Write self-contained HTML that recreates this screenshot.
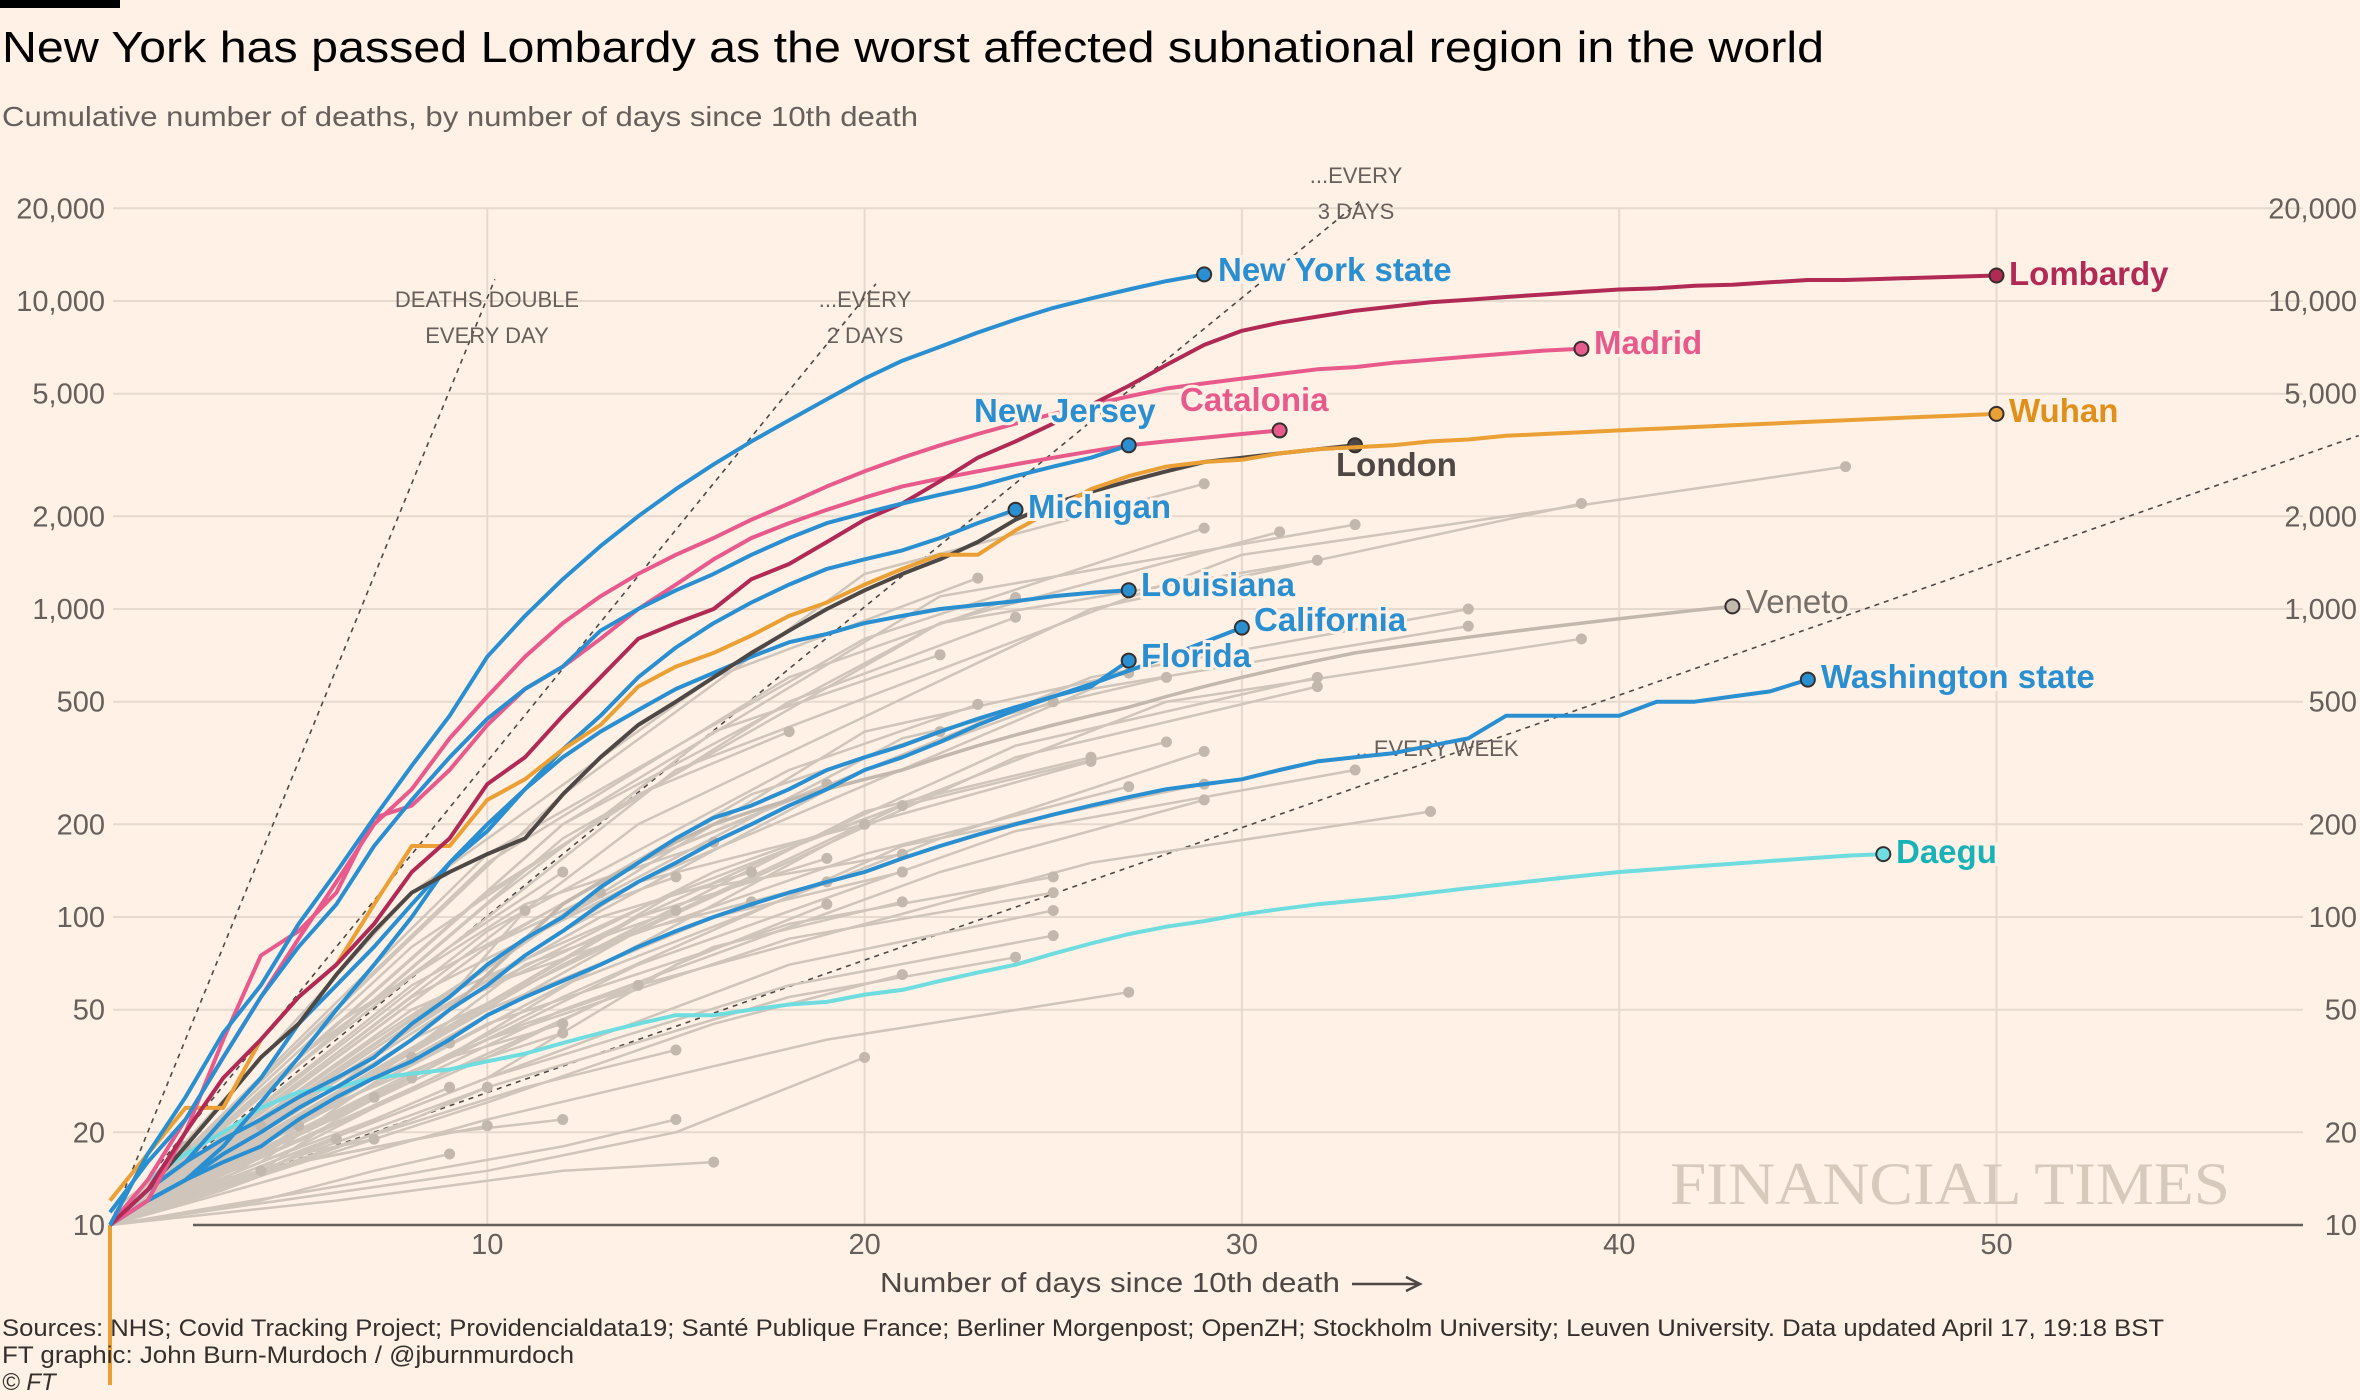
<!DOCTYPE html>
<html><head><meta charset="utf-8"><style>
html,body{margin:0;padding:0;background:#fff1e5;}
svg{display:block;font-family:"Liberation Sans",sans-serif;}
</style></head><body>
<svg id="chart" width="2360" height="1400" viewBox="0 0 2360 1400" xmlns="http://www.w3.org/2000/svg">
<rect width="2360" height="1400" fill="#fff1e5"/>
<rect x="0" y="0" width="120" height="8" fill="#000"/>
<text x="2" y="62" font-size="44" fill="#000" textLength="1822" lengthAdjust="spacingAndGlyphs">New York has passed Lombardy as the worst affected subnational region in the world</text>
<text x="2" y="126" font-size="28" fill="#66605c" textLength="916" lengthAdjust="spacingAndGlyphs">Cumulative number of deaths, by number of days since 10th death</text>
<g id="grid"></g>
<g id="axes"></g>
<text x="1670" y="1204" font-family="Liberation Serif,serif" font-size="60" fill="#d6cabd" textLength="560" lengthAdjust="spacingAndGlyphs">FINANCIAL TIMES</text>
<g id="refs"></g>
<g id="series"></g>
<g id="labels"></g>
<text x="880" y="1292" font-size="28" fill="#4d4845" textLength="460" lengthAdjust="spacingAndGlyphs">Number of days since 10th death</text>
<path d="M1352 1284 L1418 1284 M1406 1277 L1420 1284 L1406 1291" stroke="#4d4845" stroke-width="2.5" fill="none"/>
<text x="2" y="1336" font-size="24" fill="#33302e" textLength="2162" lengthAdjust="spacingAndGlyphs">Sources:  NHS; Covid Tracking Project; Providencialdata19; Santé Publique France; Berliner Morgenpost; OpenZH; Stockholm University; Leuven University. Data updated April 17, 19:18 BST</text>
<text x="2" y="1363" font-size="24" fill="#33302e" textLength="572" lengthAdjust="spacingAndGlyphs">FT graphic: John Burn-Murdoch / @jburnmurdoch</text>
<text x="2" y="1390" font-size="24" font-style="italic" fill="#33302e">© FT</text>
</svg>
<script>
var yTicks=[10,20,50,100,200,500,1000,2000,5000,10000,20000];
var yTickLabels=["10","20","50","100","200","500","1,000","2,000","5,000","10,000","20,000"];
var xTicks=[10,20,30,40,50];
var nyVals=[10,17,26,42,60,95,140,210,310,450,700,950,1250,1600,2000,2450,2950,3500,4100,4800,5600,6400,7100,7900,8700,9500,10200,10900,11600,12200];
var lombardyVals=[10,13,20,30,40,55,70,95,140,180,270,330,450,600,800,900,1000,1250,1400,1650,1950,2200,2600,3100,3500,4000,4600,5300,6200,7200,8000,8500,8900,9300,9600,9900,10100,10300,10500,10700,10900,11000,11200,11300,11500,11700,11700,11800,11900,12000,12100];
var madridVals=[10,14,22,35,55,85,130,200,260,380,520,700,900,1100,1300,1500,1700,1950,2200,2500,2800,3100,3400,3700,4000,4300,4600,4900,5200,5400,5600,5800,6000,6100,6300,6450,6600,6750,6900,7000];
var cataloniaVals=[10,12,20,40,75,90,120,210,230,300,420,550,650,800,1000,1200,1450,1700,1900,2100,2300,2500,2650,2800,2950,3100,3250,3400,3500,3600,3700,3800];
var wuhanVals=[12,17,24,24,40,55,70,110,170,170,240,280,350,420,560,650,720,820,950,1050,1200,1350,1500,1500,1800,2100,2450,2700,2900,3000,3050,3200,3300,3350,3400,3500,3550,3650,3700,3750,3800,3850,3900,3950,4000,4050,4100,4150,4200,4250,4300];
var londonVals=[10,13,18,25,35,45,65,90,120,140,160,180,250,330,420,500,600,720,850,1000,1150,1300,1450,1650,1950,2200,2400,2600,2800,3000,3100,3200,3300,3400];
var newJerseyVals=[11,16,22,35,55,80,110,170,240,330,440,550,650,850,1000,1150,1300,1500,1700,1900,2050,2200,2350,2500,2700,2900,3100,3400];
var michiganVals=[10,13,16,22,30,45,60,80,110,150,190,260,350,450,600,750,900,1050,1200,1350,1450,1550,1700,1900,2100];
var louisianaVals=[10,12,14,18,25,35,50,70,100,150,200,260,330,400,470,550,620,700,780,830,900,950,1000,1030,1060,1100,1130,1150];
var californiaVals=[10,12,14,17,20,24,28,33,40,50,60,75,90,110,130,150,175,200,230,260,300,330,370,420,470,520,570,630,700,780,870];
var floridaVals=[10,13,16,19,22,26,30,35,45,55,70,85,100,125,150,180,210,230,260,300,330,360,400,440,480,520,560,680];
var washingtonVals=[10,12,14,16,18,22,26,30,34,40,48,55,62,70,80,90,100,110,120,130,140,155,170,185,200,215,230,245,260,270,280,300,320,330,340,360,380,450,450,450,450,500,500,520,540,590];
var daeguVals=[10,14,17,20,24,27,28,30,31,32,34,36,39,42,45,48,48,50,52,53,56,58,62,66,70,76,82,88,93,97,102,106,110,113,116,120,124,128,132,136,140,143,146,149,152,155,158,160];
var venetoVals=[10,12,14,17,20,24,28,33,40,50,65,85,110,130,150,175,200,220,240,260,280,300,330,360,390,420,450,480,520,560,600,640,680,720,750,780,810,840,870,900,930,960,990,1020];
var grayRegions=[
[[0,10],[8,120],[16,600],[23,1260]],[[0,10],[10,160],[20,800],[29,1830]],[[0,10],[12,200],[22,1100],[33,1880]],
[[0,10],[12,180],[22,900],[31,1780]],[[0,10],[12,250],[20,1300],[29,2550]],[[0,11],[15,300],[30,1500],[46,2900]],
[[0,10],[14,200],[26,1000],[39,2200]],[[0,10],[12,200],[22,900],[32,1440]],[[0,10],[10,150],[18,600],[24,1090]],
[[0,10],[10,120],[18,500],[24,940]],[[0,10],[14,150],[26,600],[36,1000]],[[0,10],[14,130],[26,550],[36,880]],
[[0,10],[15,120],[28,500],[39,800]],[[0,10],[10,110],[16,400],[22,710]],[[0,10],[12,100],[20,400],[27,620]],
[[0,10],[12,100],[21,380],[28,600]],[[0,10],[14,100],[24,360],[32,600]],[[0,10],[14,90],[24,330],[32,560]],
[[0,10],[10,90],[18,300],[23,490]],[[0,10],[12,90],[20,300],[25,500]],[[0,10],[8,80],[14,250],[18,400]],
[[0,10],[10,80],[17,250],[22,400]],[[0,10],[12,70],[21,230],[28,370]],[[0,10],[12,70],[20,220],[26,330]],
[[0,10],[12,60],[20,200],[26,320]],[[0,10],[12,60],[22,180],[29,345]],[[0,10],[14,70],[24,190],[33,300]],
[[0,10],[12,55],[21,170],[29,270]],[[0,10],[10,60],[20,160],[27,265]],[[0,10],[8,60],[14,150],[19,270]],
[[0,10],[10,60],[16,140],[21,230]],[[0,10],[12,50],[22,140],[29,240]],[[0,10],[14,60],[26,150],[35,220]],
[[0,10],[8,55],[14,130],[20,200]],[[0,10],[6,45],[11,110],[16,175]],[[0,10],[8,50],[15,120],[21,160]],
[[0,10],[5,35],[9,80],[12,140]],[[0,10],[7,40],[12,100],[15,135]],[[0,10],[8,45],[13,100],[17,140]],
[[0,10],[8,45],[14,100],[19,155]],[[0,10],[10,50],[16,100],[21,140]],[[0,10],[8,40],[14,90],[19,130]],
[[0,10],[10,45],[18,95],[25,135]],[[0,10],[10,40],[18,85],[25,120]],[[0,10],[6,35],[10,80],[13,120]],
[[0,10],[7,30],[11,70],[15,105]],[[0,10],[8,30],[13,70],[17,112]],[[0,10],[10,35],[16,80],[21,112]],
[[0,10],[10,30],[15,70],[19,110]],[[0,10],[10,30],[18,70],[25,105]],[[0,10],[6,28],[9,55],[11,105]],
[[0,10],[10,30],[18,60],[25,87]],[[0,10],[10,28],[18,55],[24,74]],[[0,10],[6,25],[11,45],[14,60]],
[[0,10],[10,25],[16,45],[21,65]],[[0,10],[10,22],[19,40],[27,57]],[[0,10],[5,20],[9,35],[12,45]],
[[0,10],[5,18],[9,32],[12,42]],[[0,10],[4,18],[7,30],[9,39]],[[0,10],[6,18],[11,28],[15,37]],
[[0,10],[4,16],[6,24],[8,35]],[[0,10],[4,15],[6,22],[8,30]],[[0,10],[3,14],[5,20],[7,26]],
[[0,10],[4,16],[7,22],[9,28]],[[0,10],[5,16],[8,22],[10,28]],[[0,10],[5,16],[9,20],[12,22]],
[[0,10],[10,15],[15,20],[20,35]],[[0,10],[7,14],[12,18],[15,22]],[[0,10],[2,14],[3,18],[4,21]],
[[0,10],[2,13],[4,17],[5,21]],[[0,10],[3,13],[5,16],[10,21]],[[0,10],[3,13],[5,17],[6,19]],
[[0,10],[3,13],[5,17],[7,19]],[[0,10],[4,12],[7,15],[9,17]],[[0,10],[2,12],[3,14],[4,15]],
[[0,10],[6,12],[12,15],[16,16]],[[0,10],[1,14],[2,18]]
];
var NS="http://www.w3.org/2000/svg";
function xS(d){return 110+d*37.73;}
function yS(v){return 1225-Math.log10(v/10)*308;}
function mk(tag,attrs,parent){var e=document.createElementNS(NS,tag);for(var k in attrs)e.setAttribute(k,attrs[k]);parent.appendChild(e);return e;}
var grid=document.getElementById('grid'),axes=document.getElementById('axes'),refs=document.getElementById('refs'),ser=document.getElementById('series'),lab=document.getElementById('labels');
yTicks.forEach(function(v,i){
  var y=yS(v);
  if(v>10){var g=mk('line',{x1:113,x2:2303,y1:y,y2:y,stroke:'#e6d9ce','stroke-width':2},grid);
  
  }
  var t=mk('text',{x:105,y:y+10,'text-anchor':'end','font-size':29,fill:'#66605c'},axes);t.textContent=yTickLabels[i];
  
  
  var t2=mk('text',{x:2357,y:y+10,'text-anchor':'end','font-size':29,fill:'#66605c'},axes);t2.textContent=yTickLabels[i];
  
  
});
xTicks.forEach(function(d){
  var x=xS(d);
  var g=mk('line',{x1:x,x2:x,y1:yS(20000),y2:yS(10),stroke:'#e6d9ce','stroke-width':2},grid);
  
  
  var t=mk('text',{x:x,y:1254,'text-anchor':'middle','font-size':29,fill:'#66605c'},axes);t.textContent=d;
  
  
});
var ax=mk('line',{x1:193,x2:2303,y1:yS(10),y2:yS(10),stroke:'#66605c','stroke-width':2.5},axes);


[[1,10.2],[2,20.3],[3,33.2],[7,59.6]].forEach(function(r){
  var n=r[0],dEnd=r[1];
  var l=mk('line',{x1:xS(0),y1:yS(10),x2:xS(dEnd),y2:yS(10*Math.pow(2,dEnd/n)),stroke:'#4d4845','stroke-width':1.6,'stroke-dasharray':'5,5'},refs);
  
  
});
function refText(x,y,s){var t=mk('text',{x:x,y:y,'text-anchor':'middle','font-size':22,fill:'#66605c'},refs);t.textContent=s;

}
refText(487,307,'DEATHS DOUBLE');refText(487,343,'EVERY DAY');
refText(865,307,'...EVERY');refText(865,343,'2 DAYS');
refText(1356,183,'...EVERY');refText(1356,219,'3 DAYS');
refText(1437,756,'...EVERY WEEK');
var orangeTail=mk('line',{x1:xS(0),x2:xS(0),y1:yS(10),y2:1385,stroke:'#eba035','stroke-width':4},ser);


function pathFrom(pts){return pts.map(function(p,i){return (i?'L':'M')+xS(p[0]).toFixed(1)+' '+yS(p[1]).toFixed(1);}).join(' ');}
grayRegions.forEach(function(pts){
  var p=mk('path',{d:pathFrom(pts),fill:'none',stroke:'#cfc5bb','stroke-width':2.5,'stroke-linejoin':'round'},ser);
  
  
  var last=pts[pts.length-1];
  var c=mk('circle',{cx:xS(last[0]),cy:yS(last[1]),r:5.5,fill:'#c2b8ae'},ser);
  
  
});
function drawSeries(vals,color,w,name,dot){
  var pts=vals.map(function(v,i){return [i,v];});
  var p=mk('path',{d:pathFrom(pts),fill:'none',stroke:color,'stroke-width':w,'stroke-linejoin':'round'},ser);
  
  
  var last=pts[pts.length-1];
  var c=mk('circle',{cx:xS(last[0]),cy:yS(last[1]),r:7,fill:dot,stroke:'#33302e','stroke-width':2},ser);
  
  
}
var blue='#2a8fd0';
drawSeries(venetoVals,'#c2b8ae',3.5,'veneto','#c2b8ae');
drawSeries(daeguVals,'#6fdde0',4,'daegu','#6fdde0');
drawSeries(washingtonVals,blue,4,'washington-state',blue);
drawSeries(floridaVals,blue,4,'florida',blue);
drawSeries(californiaVals,blue,4,'california',blue);
drawSeries(louisianaVals,blue,4,'louisiana',blue);
drawSeries(michiganVals,blue,4,'michigan',blue);
drawSeries(londonVals,'#4d4845',4,'london','#4d4845');
drawSeries(wuhanVals,'#eba035',4,'wuhan','#eba035');
drawSeries(cataloniaVals,'#e85a8c',4,'catalonia','#e85a8c');
drawSeries(madridVals,'#e85a8c',4,'madrid','#e85a8c');
drawSeries(lombardyVals,'#b02a55',4,'lombardy','#b02a55');
drawSeries(newJerseyVals,blue,4,'new-jersey',blue);
drawSeries(nyVals,blue,4,'new-york-state',blue);
function label(x,y,s,color,name,bold){
  var t=mk('text',{x:x,y:y,'font-size':33,'font-weight':bold?'bold':'normal',fill:color,stroke:'#fff1e5','stroke-width':6,'paint-order':'stroke'},lab);
  t.textContent=s;
  
  
}
label(1218,281,'New York state',blue,'new-york-label',true);
label(2009,285,'Lombardy','#b02a55','lombardy-label',true);
label(1594,354,'Madrid','#e85a8c','madrid-label',true);
label(2009,422,'Wuhan','#e0901a','wuhan-label',true);
label(1180,411,'Catalonia','#e85a8c','catalonia-label',true);
label(974,422,'New Jersey',blue,'new-jersey-label',true);
label(1336,476,'London','#4d4845','london-label',true);
label(1028,518,'Michigan',blue,'michigan-label',true);
label(1141,596,'Louisiana',blue,'louisiana-label',true);
label(1254,631,'California',blue,'california-label',true);
label(1141,667,'Florida',blue,'florida-label',true);
label(1746,613,'Veneto','#76706a','veneto-label',false);
label(1821,688,'Washington state',blue,'washington-label',true);
label(1896,863,'Daegu','#18b3b8','daegu-label',true);
</script>
</body></html>
